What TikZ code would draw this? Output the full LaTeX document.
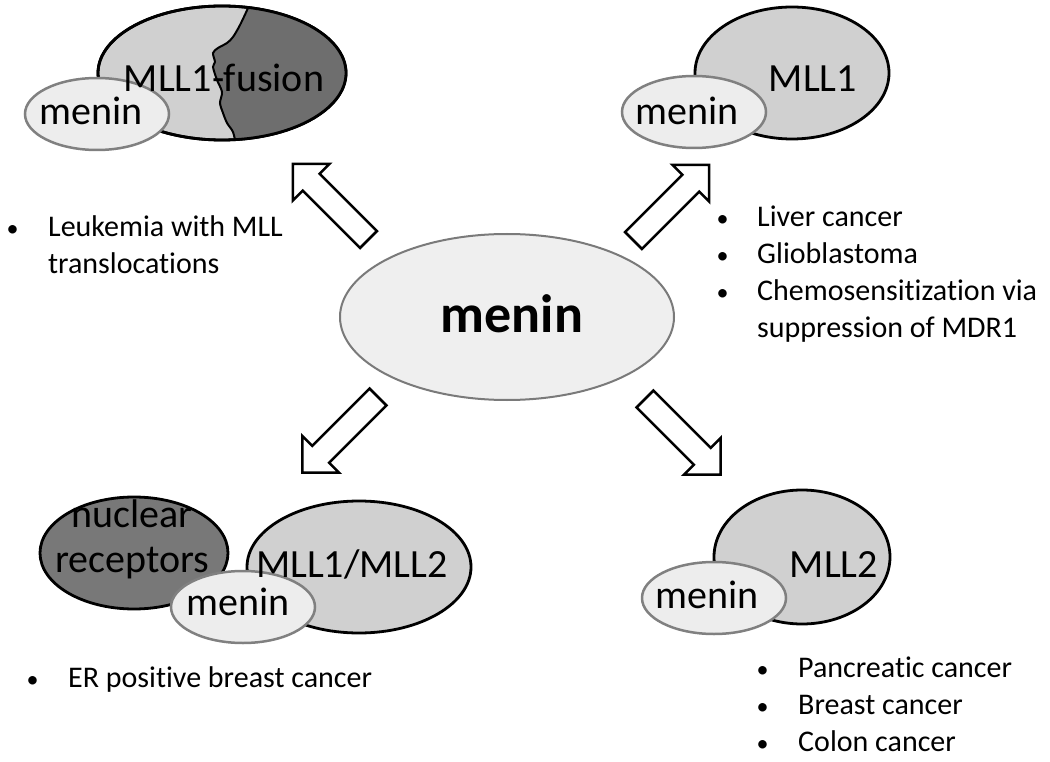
\documentclass[tikz,border=0pt]{standalone}
\usepackage{fontspec}
\setmainfont{Carlito}[Ligatures=NoCommon]
\usetikzlibrary{shapes.geometric}
\definecolor{mllfill}{HTML}{D0D0D0}
\definecolor{darkfill}{HTML}{6E6E6E}
\definecolor{nrfill}{HTML}{787878}
\definecolor{meninfill}{HTML}{EDEDED}
\definecolor{meninline}{HTML}{808080}
\definecolor{centerfill}{HTML}{EFEFEF}
\definecolor{centerline}{HTML}{7A7A7A}
\newcommand{\bul}[1]{\makebox[#1][l]{\hspace*{1pt}\scalebox{0.8}{•}}}
\tikzset{
  bigell/.style={ellipse, draw=black, line width=2.8pt, fill=mllfill, inner sep=0pt},
  menell/.style={ellipse, draw=meninline, line width=2.5pt, fill=meninfill, inner sep=0pt, minimum width=144pt, minimum height=72pt},
  lbl/.style={font=\fontsize{40}{45}\selectfont, anchor=base, inner sep=0pt},
  listtext/.style={font=\fontsize{30}{37}\selectfont, anchor=base west, inner sep=0pt},
  barrow/.pic={\draw[black, line width=2.5pt, fill=white, line join=miter]
     (0,-12) -- (81,-12) -- (81,-26) -- (107,0) -- (81,26) -- (81,12) -- (0,12) -- cycle;}
}
\begin{document}
\begin{tikzpicture}[x=1pt, y=-1pt]
\useasboundingbox[fill=white] (0,0) rectangle (1050,762);

% ---------- top-left: MLL1-fusion ----------
\node[bigell, minimum width=248pt, minimum height=134pt] (fus) at (222,73) {};
\begin{scope}
  \clip (222,73) ellipse [x radius=124pt, y radius=67pt];
  \fill[darkfill] plot[smooth] coordinates {(250,2) (248,8) (240,25) (233,37) (227,43) (218,48) (213,53) (215,62) (213,67) (217,80) (222,92) (220,103) (223,113) (227,123) (233,132) (236,145)}
     -- (360,145) -- (360,0) -- cycle;
  \draw[black, line width=2pt] plot[smooth] coordinates {(250,2) (248,8) (240,25) (233,37) (227,43) (218,48) (213,53) (215,62) (213,67) (217,80) (222,92) (220,103) (223,113) (227,123) (233,132) (236,145)};
\end{scope}
\draw[black, line width=2.8pt] (fus.center) ellipse [x radius=124pt, y radius=67pt];
\node[menell] (men1) at (97,114) {};
\node[lbl] (fust) at (224,92) {MLL1-fusion};
\node[lbl] (men1t) at (91,125) {menin};

% ---------- top-right: MLL1 ----------
\node[bigell, minimum width=194pt, minimum height=132pt] (mll1) at (792,73) {};
\node[menell] (men2) at (694,112) {};
\node[lbl] (mll1t) at (813,92) {MLL1};
\node[lbl] (men2t) at (687,125) {menin};

% ---------- bottom-left: nuclear receptors + MLL1/MLL2 ----------
\node[bigell, fill=nrfill, minimum width=188pt, minimum height=112pt] (nr) at (134,553) {};
\node[bigell, minimum width=224pt, minimum height=132pt] (mll12) at (359,567) {};
\node[menell] (men3) at (243,607) {};
\node[lbl] (nrt1) at (132,527) {nuclear};
\node[lbl] (nrt2) at (132,572) {receptors};
\node[lbl] (mll12t) at (352,577) {MLL1/MLL2};
\node[lbl] (men3t) at (238,615) {menin};

% ---------- bottom-right: MLL2 ----------
\node[bigell, minimum width=176pt, minimum height=134pt] (mll2) at (802,557) {};
\node[menell] (men4) at (714,598) {};
\node[lbl] (mll2t) at (834,577) {MLL2};
\node[lbl] (men4t) at (707,608) {menin};

% ---------- centre ----------
\node[ellipse, draw=centerline, line width=2pt, fill=centerfill, minimum width=334pt, minimum height=166pt, inner sep=0pt] (menin) at (507,317) {};
\node[font=\fontsize{54}{60}\selectfont\bfseries, anchor=base, inner sep=0pt] (menint) at (512,332) {menin};

% ---------- block arrows ----------
\coordinate (atl) at (368.5,239.5);
\coordinate (atr) at (633.5,240.5);
\coordinate (abl) at (378,397);
\coordinate (abr) at (645,399);
\pic[rotate=135] at (atl) {barrow};
\pic[rotate=45] at (atr) {barrow};
\pic[rotate=225] at (abl) {barrow};
\pic[rotate=-45] at (abr) {barrow};

% ---------- lists ----------
\node[listtext] (l1) at (5.5,237) {\begin{tabular}[t]{@{}l@{}l@{}}\bul{42.5pt}&Leukemia with MLL\\ &translocations\end{tabular}};
\node[listtext] (l2) at (715.5,227) {\begin{tabular}[t]{@{}l@{}l@{}}\bul{41.5pt}&Liver cancer\\ \bul{41.5pt}&Glioblastoma\\ \bul{41.5pt}&Chemosensitization via\\ &suppression of MDR1\end{tabular}};
\node[listtext] (l3) at (25.5,687) {\begin{tabular}[t]{@{}l@{}l@{}}\bul{42.5pt}&ER positive breast cancer\end{tabular}};
\node[listtext] (l4) at (755.5,677) {\begin{tabular}[t]{@{}l@{}l@{}}\bul{42.5pt}&Pancreatic cancer\\ \bul{42.5pt}&Breast cancer\\ \bul{42.5pt}&Colon cancer\end{tabular}};
\end{tikzpicture}
\end{document}
